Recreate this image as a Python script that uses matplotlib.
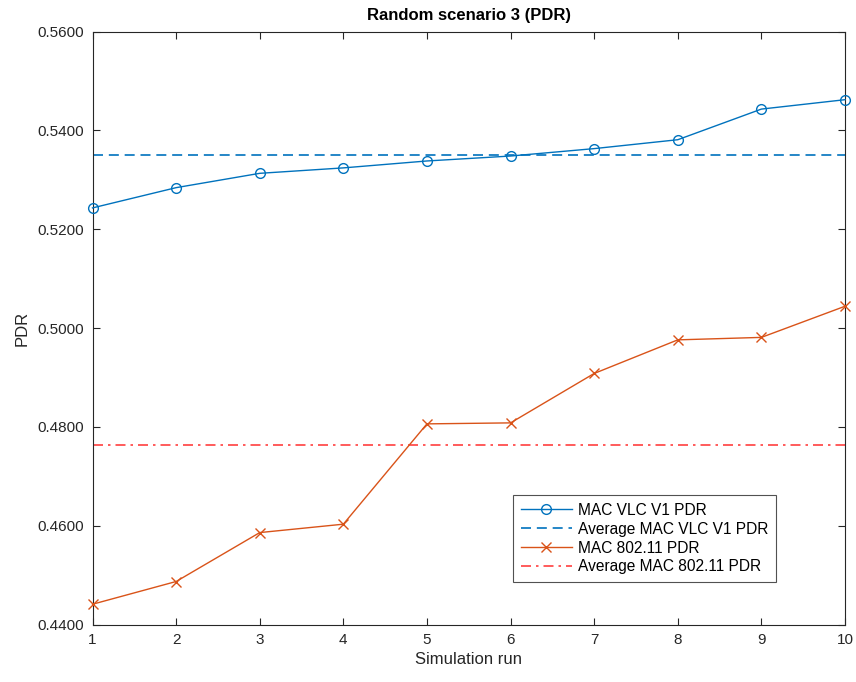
import matplotlib
matplotlib.use("Agg")
import matplotlib.pyplot as plt
import numpy as np

plt.rcParams['font.family'] = ['Liberation Sans', 'DejaVu Sans']

runs = [1, 2, 3, 4, 5, 6, 7, 8, 9, 10]
vlc_pdr = [0.5243, 0.5284, 0.5313, 0.5324, 0.5338, 0.5348, 0.5363, 0.5381, 0.5443, 0.5462]
wifi_pdr = [0.4441, 0.4487, 0.4586, 0.4603, 0.4806, 0.4808, 0.4908, 0.4976, 0.4981, 0.5044]
vlc_avg = 0.5351
wifi_avg = 0.4764
yticks = [0.44, 0.46, 0.48, 0.50, 0.52, 0.54, 0.56]
labels = ["MAC VLC V1 PDR", "Average MAC VLC V1 PDR", "MAC 802.11 PDR", "Average MAC 802.11 PDR"]

fig = plt.figure(figsize=(8.56, 6.82), dpi=100)
ax = fig.add_axes([92.5/856, 1 - 624.5/682, (845 - 92.5)/856, (624.5 - 31.5)/682])

blue = '#0072BD'
orange = '#D95319'
red = '#FF4040'

ax.plot(runs, vlc_pdr, '-', color=blue, marker='o', markersize=7, markerfacecolor='none',
        markeredgewidth=1.0, linewidth=1.0, label=labels[0], clip_on=False, zorder=3)
ax.plot([runs[0], runs[-1]], [vlc_avg, vlc_avg], '--', color=blue, linewidth=1.2,
        dashes=(6, 3.5), label=labels[1])
ax.plot(runs, wifi_pdr, '-', color=orange, marker='x', markersize=7,
        markeredgewidth=1.0, linewidth=1.0, label=labels[2], clip_on=False, zorder=3)
ax.plot([runs[0], runs[-1]], [wifi_avg, wifi_avg], '-.', color=red, linewidth=1.2,
        dashes=(6, 3, 1.5, 3), label=labels[3])

ax.set_xlim(1, 10)
ax.set_ylim(0.44, 0.56)
ax.set_xticks(runs)
ax.set_yticks(yticks)
ax.set_yticklabels([f"{v:.4f}" for v in yticks])
ax.tick_params(direction='in', length=5, width=0.8, top=True, right=True,
               labelsize=11, colors='#262626', pad=6)
for s in ax.spines.values():
    s.set_color('#262626')
    s.set_linewidth(0.8)

ax.set_xlabel("Simulation run", fontsize=12, color='#262626', labelpad=4)
ax.set_ylabel("PDR", fontsize=12, color='#262626', labelpad=6)
ax.set_title("Random scenario 3 (PDR)", fontsize=12, fontweight='bold', pad=8)

leg = ax.legend(loc='upper left', bbox_to_anchor=((513 - 92.5) / (845 - 92.5), (624.5 - 495) / 593),
                fontsize=11.2, frameon=True, fancybox=False, edgecolor='#262626',
                handlelength=3.3, handletextpad=0.4, labelspacing=0.25, borderpad=0.5,
                borderaxespad=0)
leg.get_frame().set_linewidth(0.8)

fig.savefig("out.png", dpi=100)
